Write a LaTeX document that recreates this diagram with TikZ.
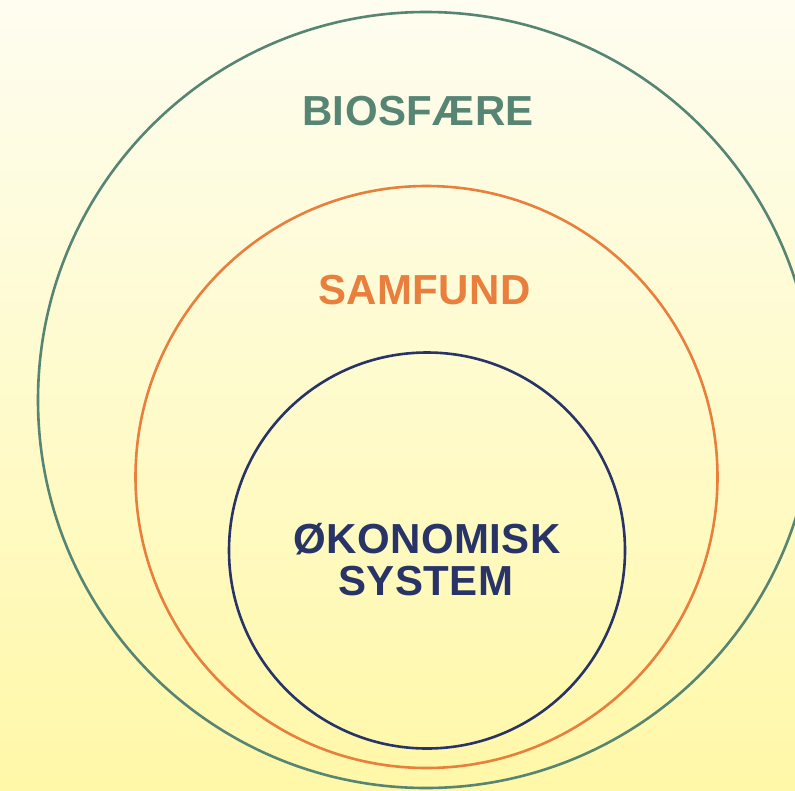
\documentclass[tikz,border=0pt]{standalone}
\usepackage{fontspec}
\newfontfamily\lblfont[LetterSpace=1]{Liberation Sans}
\definecolor{bioclr}{HTML}{568574}
\definecolor{samclr}{HTML}{E97F3D}
\definecolor{okoclr}{HTML}{283468}
\definecolor{bgtop}{HTML}{FEFDF0}
\definecolor{bgbot}{HTML}{FFF8A8}
\tikzset{
  ring/.style={line width=2.6pt},
  lbl/.style={anchor=base,inner sep=0pt,font=\lblfont\bfseries\fontsize{42}{44}\selectfont}
}
\begin{document}
\begin{tikzpicture}[x=1pt,y=-1pt]
\useasboundingbox (0,0) rectangle (795,790);
\clip (0,0) rectangle (795,790);
\shade[top color=bgtop,bottom color=bgbot] (0,0) rectangle (795,790);

\draw[ring,bioclr] (426,400) circle (388pt);
\draw[ring,samclr] (426.5,477) circle (291pt);
\draw[ring,okoclr] (427,550.5) circle (198pt);

\node[lbl,text=bioclr](bio) at (418,125) {BIOSFÆRE};
\node[lbl,text=samclr](sam) at (424.5,304) {SAMFUND};
\node[lbl,text=okoclr](oko) at (427,553) {ØKONOMISK};
\node[lbl,text=okoclr](sys) at (426,595) {SYSTEM};
\end{tikzpicture}
\end{document}
